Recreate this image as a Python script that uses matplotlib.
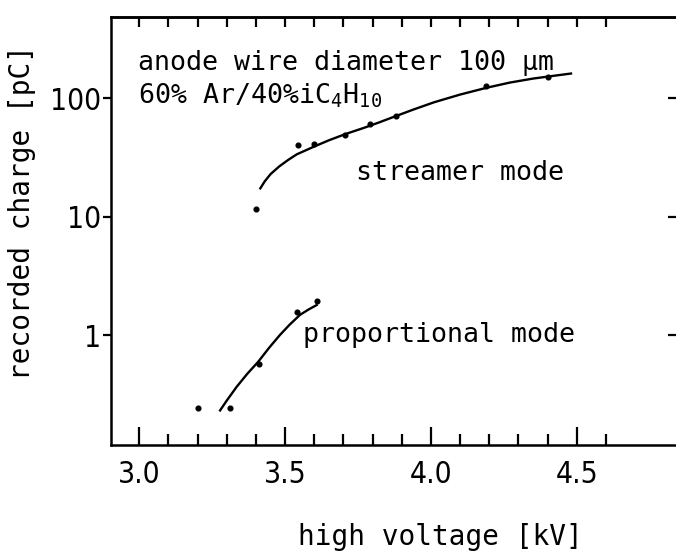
import matplotlib
matplotlib.use("Agg")
import matplotlib.pyplot as plt
from matplotlib.ticker import FixedLocator, NullLocator, FixedFormatter

# ---- data ----
prop_v = [3.20, 3.31, 3.41, 3.54, 3.61]
prop_q = [0.24, 0.24, 0.57, 1.57, 1.95]
prop_fit_v = [3.277, 3.30, 3.334, 3.37, 3.408, 3.445, 3.482, 3.515, 3.551, 3.58, 3.608]
prop_fit_q = [0.231, 0.28, 0.366, 0.47, 0.596, 0.78, 1.0, 1.22, 1.48, 1.64, 1.79]

stream_v = [3.40, 3.545, 3.60, 3.705, 3.79, 3.88, 4.19, 4.40]
stream_q = [11.5, 40, 41, 49, 60, 70, 126, 150]
stream_fit_v = [3.415, 3.43, 3.45, 3.48, 3.51, 3.54, 3.60, 3.65, 3.71, 3.77,
                3.82, 3.87, 3.94, 4.01, 4.10, 4.19, 4.27, 4.35, 4.42, 4.48]
stream_fit_q = [17.3, 19.8, 22.8, 26.5, 30, 33.5, 39, 44, 50, 56,
                62, 69, 80, 92, 107, 122, 135, 146, 154, 161]

x_major = [3.0, 3.5, 4.0, 4.5]
x_major_labels = ["3.0", "3.5", "4.0", "4.5"]
x_minor = [3.1, 3.2, 3.3, 3.4, 3.6, 3.7, 3.8, 3.9, 4.1, 4.2, 4.3, 4.4, 4.6]
y_ticks = [1, 10, 100]
y_labels = ["1", "10", "100"]

MONO = ["DejaVu Sans Mono"]
plt.rcParams["mathtext.fontset"] = "custom"
plt.rcParams["mathtext.rm"] = "DejaVu Sans Mono"
plt.rcParams["mathtext.it"] = "DejaVu Sans Mono"

W, H = 676, 551
fig = plt.figure(figsize=(W / 100, H / 100), dpi=100)
L, R, T, B = 110.7, 676, 17, 445
ax = fig.add_axes([L / W, 1 - B / H, (R - L) / W, (B - T) / H])

ax.set_yscale("log")
ax.set_xlim(2.902, 4.84)
ax.set_ylim(0.118, 483)

ax.plot(prop_fit_v, prop_fit_q, color="black", lw=1.7)
ax.plot(stream_fit_v, stream_fit_q, color="black", lw=1.7)
ax.plot(prop_v, prop_q, "o", color="black", ms=3.4)
ax.plot(stream_v, stream_q, "o", color="black", ms=3.4)

for s in ["left", "bottom", "top"]:
    ax.spines[s].set_linewidth(1.8)
ax.spines["right"].set_visible(False)

ax.xaxis.set_major_locator(FixedLocator(x_major))
ax.xaxis.set_major_formatter(FixedFormatter(x_major_labels))
ax.xaxis.set_minor_locator(FixedLocator(x_minor))
ax.tick_params(axis="x", which="major", direction="in", length=13, width=1.6,
               pad=11, top=False)
ax.tick_params(axis="x", which="minor", direction="in", length=8, width=1.6,
               top=False)

ax.yaxis.set_major_locator(FixedLocator(y_ticks))
ax.yaxis.set_major_formatter(FixedFormatter(y_labels))
ax.yaxis.set_minor_locator(NullLocator())
ax.tick_params(axis="y", which="major", direction="out", length=6, width=1.6,
               pad=1, right=False)

for lab in ax.get_xticklabels() + ax.get_yticklabels():
    lab.set_family("DejaVu Sans")
    lab.set_fontstretch("condensed")
    lab.set_fontsize(21.5)

# top ticks
top = ax.secondary_xaxis("top")
top.set_xticks(x_major + x_minor)
top.tick_params(direction="in", length=7, width=1.6, labeltop=False)
top.spines["top"].set_linewidth(1.8)

# right ticks
right = ax.secondary_yaxis("right")
right.set_yticks(y_ticks)
right.yaxis.set_minor_locator(NullLocator())
right.tick_params(direction="in", length=6, width=1.6, labelright=False)
right.spines["right"].set_visible(False)

def fx(px):
    return (px - L) / (R - L)

def fy(py):
    return (B - py) / (B - T)

fs = 19.2
ax.text(fx(138), fy(70), "anode wire diameter 100 µm", transform=ax.transAxes,
        family=MONO, fontsize=fs, va="baseline", ha="left")
ax.text(fx(138), fy(104), "60% Ar/40%iC$_4$H$_{10}$", transform=ax.transAxes,
        family=MONO, fontsize=fs, va="baseline", ha="left")
ax.text(fx(356), fy(180), "streamer mode", transform=ax.transAxes,
        family=MONO, fontsize=fs, va="baseline", ha="left")
ax.text(fx(303), fy(342), "proportional mode", transform=ax.transAxes,
        family=MONO, fontsize=fs, va="baseline", ha="left")

fig.text(440 / W, 1 - 537 / H, "high voltage [kV]", family=MONO, fontsize=20,
         ha="center", va="center")
fig.text(22 / W, 1 - 212 / H, "recorded charge [pC]", family=MONO, fontsize=20,
         ha="center", va="center", rotation=90)

fig.savefig("out.png", dpi=100)
